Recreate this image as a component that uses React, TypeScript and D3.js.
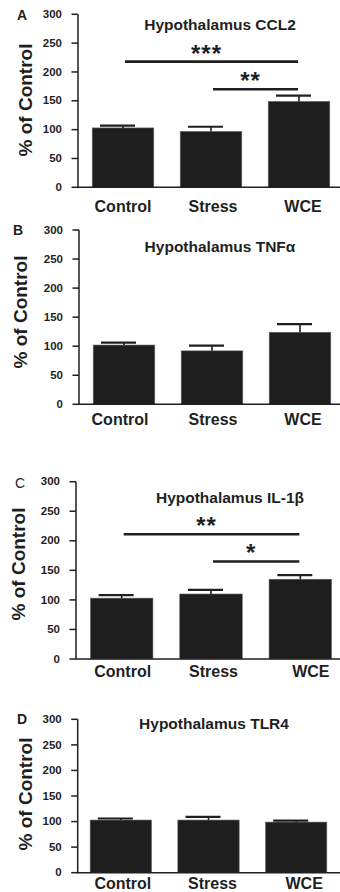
import React from "react";
import * as d3 from "d3";

// Treatment groups and tick values shared by all panels
const groups = ["Control", "Stress", "WCE"];
const yTicks = [0, 50, 100, 150, 200, 250, 300];

// Means (% of control) and SEM per cytokine
const ccl2 = [103, 97, 149];
const ccl2Err = [4, 8, 10];
const tnfa = [102, 92, 124];
const tnfaErr = [4, 9, 14];
const il1b = [103, 110, 135];
const il1bErr = [5, 7, 7];
const tlr4 = [103, 103, 99];
const tlr4Err = [3, 6, 3];

// Significance comparisons: [from group, to group, bar height, label]
const ccl2Sig: [number, number, number, string][] = [
  [0, 2, 218, "***"],
  [1, 2, 170, "**"],
];
const il1bSig: [number, number, number, string][] = [
  [0, 2, 211, "**"],
  [1, 2, 165, "*"],
];

const W = 340;
const H = 892;
const FONT = "'Liberation Sans', Arial, Helvetica, sans-serif";
const INK = "#1f1f1f";

type Panel = {
  letter: string;
  letterBold: boolean;
  title: string;
  values: number[];
  errors: number[];
  sig: [number, number, number, string][];
  y0: number;
  yTop: number;
  axisX: number;
  band: [number, number];
  yLabel: [number, number];
  titlePos: [number, number];
  letterPos: [number, number];
  xLabelY: number;
  xLabelShift: number[];
};

const panels: Panel[] = [
  {
    letter: "A", letterBold: true, title: "Hypothalamus CCL2",
    values: ccl2, errors: ccl2Err, sig: ccl2Sig,
    y0: 187.3, yTop: 14.3, axisX: 78, band: [79, 343],
    yLabel: [32, 100], titlePos: [220, 29.5], letterPos: [17, 20],
    xLabelY: 211.7, xLabelShift: [0, 2, 4],
  },
  {
    letter: "B", letterBold: true, title: "Hypothalamus TNFα",
    values: tnfa, errors: tnfaErr, sig: [],
    y0: 404.3, yTop: 230, axisX: 79, band: [80, 344],
    yLabel: [27, 312], titlePos: [220, 251.7], letterPos: [13, 235],
    xLabelY: 425, xLabelShift: [-4, 1, 3],
  },
  {
    letter: "C", letterBold: false, title: "Hypothalamus IL-1β",
    values: il1b, errors: il1bErr, sig: il1bSig,
    y0: 659, yTop: 481.7, axisX: 76, band: [77, 345],
    yLabel: [25, 564], titlePos: [230, 503.3], letterPos: [15, 488],
    xLabelY: 677, xLabelShift: [1, 2.5, 10.5],
  },
  {
    letter: "D", letterBold: true, title: "Hypothalamus TLR4",
    values: tlr4, errors: tlr4Err, sig: [],
    y0: 872.7, yTop: 719.3, axisX: 77.7, band: [77, 340],
    yLabel: [32, 794], titlePos: [214, 729.3], letterPos: [17, 724],
    xLabelY: 889, xLabelShift: [2, 4, 8],
  },
];

function BarPanel({ p }: { p: Panel }) {
  const y = d3.scaleLinear().domain([0, 300]).range([p.y0, p.yTop]);
  const x = d3
    .scaleBand<string>()
    .domain(groups)
    .range(p.band)
    .paddingInner(0.3)
    .paddingOuter(0.15);
  const bw = x.bandwidth();
  const cx = (i: number) => (x(groups[i]) as number) + bw / 2;

  return (
    <g>
      {/* panel letter */}
      <text
        x={p.letterPos[0]}
        y={p.letterPos[1]}
        fontSize={14}
        fontWeight={p.letterBold ? "bold" : "normal"}
        fill={INK}
      >
        {p.letter}
      </text>

      {/* title */}
      <text
        x={p.titlePos[0]}
        y={p.titlePos[1]}
        textAnchor="middle"
        fontSize={15.5}
        fontWeight="bold"
        fill={INK}
      >
        {p.title}
      </text>

      {/* y-axis title */}
      <text
        transform={`translate(${p.yLabel[0]},${p.yLabel[1]}) rotate(-90)`}
        textAnchor="middle"
        fontSize={19}
        fontWeight="bold"
        fill={INK}
      >
        % of Control
      </text>

      {/* bars */}
      {p.values.map((v, i) => (
        <rect
          key={groups[i]}
          x={x(groups[i])}
          y={y(v)}
          width={bw}
          height={y(0) - y(v)}
          fill="#1e1e1e"
          stroke="#6a6a6a"
          strokeWidth={0.6}
        />
      ))}

      {/* upper error bars */}
      {p.values.map((v, i) => {
        const c = cx(i);
        const top = y(v + p.errors[i]);
        return (
          <g key={"e" + i} stroke={INK}>
            <line x1={c} x2={c} y1={y(v)} y2={top} strokeWidth={1.6} />
            <line x1={c - 23} x2={c + 12} y1={top} y2={top} strokeWidth={2.2} />
          </g>
        );
      })}

      {/* axes */}
      <line x1={p.axisX} x2={p.axisX} y1={y(300)} y2={y(0)} stroke={INK} strokeWidth={1.5} />
      <line x1={p.axisX - 0.75} x2={W} y1={y(0)} y2={y(0)} stroke={INK} strokeWidth={1.5} />
      {yTicks.map((t) => (
        <g key={t}>
          <line
            x1={p.axisX - 6.5}
            x2={p.axisX}
            y1={y(t)}
            y2={y(t)}
            stroke={INK}
            strokeWidth={1.5}
          />
          <text
            x={p.axisX - 16}
            y={y(t)}
            dy="0.32em"
            textAnchor="end"
            fontSize={11.5}
            fontWeight="bold"
            fill={INK}
          >
            {t}
          </text>
        </g>
      ))}

      {/* category labels */}
      {groups.map((g, i) => (
        <text
          key={g}
          x={cx(i) + p.xLabelShift[i]}
          y={p.xLabelY}
          textAnchor="middle"
          fontSize={16}
          fontWeight="bold"
          fill={INK}
        >
          {g}
        </text>
      ))}

      {/* significance bars */}
      {p.sig.map(([a, b, h, label], k) => {
        const x1 = cx(a) + 2;
        const x2 = cx(b) - 1;
        const ly = y(h);
        return (
          <g key={"s" + k}>
            <line x1={x1} x2={x2} y1={ly} y2={ly} stroke={INK} strokeWidth={2.6} />
            <text
              x={(x1 + x2) / 2 - 5}
              y={ly}
              textAnchor="middle"
              fontSize={24}
              fontWeight="bold"
              letterSpacing={1}
              fill={INK}
            >
              {label}
            </text>
          </g>
        );
      })}
    </g>
  );
}

export default function App() {
  return (
    <svg
      width={W}
      height={H}
      viewBox={`0 0 ${W} ${H}`}
      style={{ position: "absolute", left: 0, top: 0, background: "#fff" }}
      fontFamily={FONT}
    >
      <rect width={W} height={H} fill="#fff" />
      {panels.map((p) => (
        <BarPanel key={p.letter} p={p} />
      ))}
    </svg>
  );
}
